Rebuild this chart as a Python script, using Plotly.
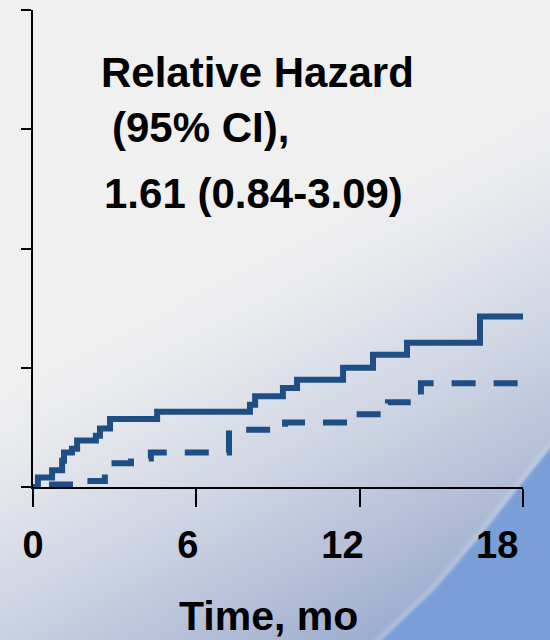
import base64
import struct
import zlib

import numpy as np
import plotly.graph_objects as go

# Cumulative hazard (%) by month, two groups, step curves
solid_months = [0, 0.18, 0.70, 1.07, 1.14, 1.43, 1.62, 2.31, 2.46, 2.83, 4.56,
                7.97, 8.16, 9.18, 9.70, 11.39, 12.49, 13.74, 16.42, 18.0]
solid_hazard = [0, 0.8, 1.4, 2.2, 2.9, 3.2, 3.9, 4.3, 4.9, 5.7, 6.3,
                6.9, 7.6, 8.3, 9.0, 10.0, 11.1, 12.1, 14.3, 14.3]

dashed_months = [0, 1.73, 2.64, 2.83, 3.60, 4.33, 7.20, 9.26, 11.61, 13.04, 14.25, 18.0]
dashed_hazard = [0.2, 0.5, 1.1, 2.0, 2.4, 2.9, 4.8, 5.4, 6.1, 7.1, 8.7, 8.7]

x_ticks = [0, 6, 12, 18]
x_tick_labels = ["0", "6", "12", "18"]
y_ticks = [0, 10, 20, 30, 40]

note_lines = ["Relative Hazard", "(95% CI),", "1.61 (0.84-3.09)"]
x_title = "Time, mo"

W, H = 550, 640
L, R, T, B = 33, 27, 10, 153
PW, PH = W - L - R, H - T - B

LINE = "#1f4e84"
FONT = "Liberation Sans, Arial, sans-serif"


def png_uri(rgb):
    h, w, _ = rgb.shape
    raw = b"".join(b"\x00" + rgb[i].tobytes() for i in range(h))

    def chunk(tag, data):
        body = tag + data
        return struct.pack(">I", len(data)) + body + struct.pack(">I", zlib.crc32(body) & 0xFFFFFFFF)

    png = (b"\x89PNG\r\n\x1a\n"
           + chunk(b"IHDR", struct.pack(">IIBBBBB", w, h, 8, 2, 0, 0, 0))
           + chunk(b"IDAT", zlib.compress(raw, 9))
           + chunk(b"IEND", b""))
    return "data:image/png;base64," + base64.b64encode(png).decode()


# Slide backdrop: pale grey fading to blue, with a swoosh at the lower right
yy, xx = np.mgrid[0:H, 0:W].astype(float)
u, v = xx / W, yy / H
t = np.clip(1.0 * v + 0.45 * u - 0.6, 0, 1) ** 1.3
top = np.array([240.0, 240.0, 241.0])
low = np.array([110.0, 135.0, 188.0])
img = top + (low - top) * t[..., None]

edge_y = [400, 447, 497, 535, 590, 640]
edge_x = [600, 550, 510, 480, 433, 380]
xb = np.interp(yy, edge_y, edge_x)
d = xx - xb
m = np.clip(d / 4 + 0.5, 0, 1)[..., None]
swoosh = np.array([122.0, 158.0, 216.0])
img = img * (1 - m) + swoosh * m
glow = np.exp(-((d + 3) / 5) ** 2)[..., None] * 0.3
img = img * (1 - glow) + np.array([210.0, 222.0, 242.0]) * glow
img = np.clip(img, 0, 255).astype(np.uint8)

fig = go.Figure()
fig.add_trace(go.Scatter(
    x=solid_months, y=solid_hazard, mode="lines", line_shape="hv",
    line=dict(color=LINE, width=6), showlegend=False, hoverinfo="skip"))
dash_pattern = ",".join(["0px", "16px"] + ["24px", "18px"] * 16)
fig.add_trace(go.Scatter(
    x=dashed_months, y=dashed_hazard, mode="lines", line_shape="hv",
    line=dict(color=LINE, width=6, dash=dash_pattern), showlegend=False, hoverinfo="skip"))
fig.add_trace(go.Scatter(x=[], y=[], xaxis="x2", showlegend=False))

fig.update_layout(
    width=W, height=H,
    margin=dict(l=L, r=R, t=T, b=B, pad=0),
    paper_bgcolor="#efefef",
    plot_bgcolor="rgba(0,0,0,0)",
    xaxis=dict(range=[0, 18], tickvals=x_ticks, showticklabels=False,
               ticks="outside", ticklen=18, tickwidth=2, tickcolor="black",
               showline=True, linecolor="black", linewidth=2,
               showgrid=False, zeroline=False, fixedrange=True),
    xaxis2=dict(overlaying="x", anchor="y", side="bottom", range=[0, 19.0],
                tickvals=x_ticks, ticktext=x_tick_labels, ticks="",
                showline=False, showgrid=False, zeroline=False,
                ticklabelstandoff=32,
                tickfont=dict(family=FONT, size=38, color="black", weight="bold")),
    yaxis=dict(range=[0, 40], tickvals=y_ticks, showticklabels=False,
               ticks="outside", ticklen=10, tickwidth=2, tickcolor="black",
               showline=True, linecolor="black", linewidth=2,
               showgrid=False, zeroline=False, fixedrange=True),
    images=[dict(source=png_uri(img), xref="paper", yref="paper",
                 x=-L / PW, y=1 + T / PH, sizex=W / PW, sizey=H / PH,
                 xanchor="left", yanchor="top", sizing="stretch", layer="below")],
)

note_pos = [(99, 72), (110, 128), (102, 193)]
for text, (px, py) in zip(note_lines, note_pos):
    fig.add_annotation(text=text, xref="paper", yref="paper",
                       x=(px - L) / PW, y=(H - B - py) / PH,
                       xanchor="left", yanchor="middle", showarrow=False,
                       font=dict(family=FONT, size=42, color="black", weight="bold"))

fig.add_annotation(text=x_title, xref="paper", yref="paper",
                   x=(268 - L) / PW, y=(H - B - 616) / PH,
                   xanchor="center", yanchor="middle", showarrow=False,
                   font=dict(family=FONT, size=41, color="black", weight="bold"))

fig.write_html("out.html")
